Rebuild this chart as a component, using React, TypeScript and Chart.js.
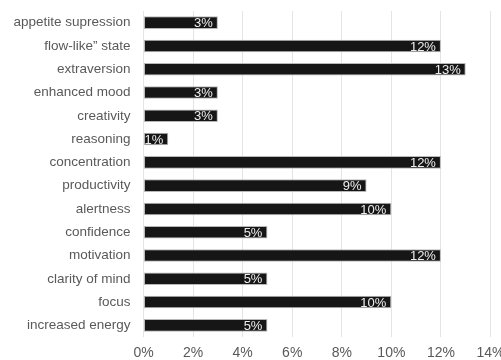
import React, { useEffect, useRef } from "react";
import { Chart, registerables } from "chart.js";

Chart.register(...registerables);

const categories = [
  "appetite supression",
  "flow-like” state",
  "extraversion",
  "enhanced mood",
  "creativity",
  "reasoning",
  "concentration",
  "productivity",
  "alertness",
  "confidence",
  "motivation",
  "clarity of mind",
  "focus",
  "increased energy",
];

const values = [3, 12, 13, 3, 3, 1, 12, 9, 10, 5, 12, 5, 10, 5];

const xTicks = [0, 2, 4, 6, 8, 10, 12, 14];

const FONT = "'Liberation Sans', Arial, sans-serif";

const barLabelPlugin = {
  id: "barLabels",
  afterDatasetsDraw(chart: any) {
    const ctx = chart.ctx;
    const meta = chart.getDatasetMeta(0);
    ctx.save();
    ctx.font = `13px ${FONT}`;
    ctx.fillStyle = "#eeeeee";
    ctx.textAlign = "right";
    ctx.textBaseline = "middle";
    meta.data.forEach((bar: any, i: number) => {
      const v = values[i];
      ctx.fillText(`${Math.round(v)}%`, bar.x - 5, bar.y + 1);
    });
    ctx.restore();
  },
};

export default function App() {
  const ref = useRef<HTMLCanvasElement | null>(null);

  useEffect(() => {
    document.body.style.margin = "0";
    if (!ref.current) return;
    const chart = new Chart(ref.current, {
      type: "bar",
      data: {
        labels: categories,
        datasets: [
          {
            data: values,
            backgroundColor: "#161616",
            borderColor: "#b8b8b8",
            borderWidth: 1,
            borderSkipped: false,
            barPercentage: 0.54,
            categoryPercentage: 1,
          },
        ],
      },
      options: {
        indexAxis: "y",
        responsive: false,
        animation: false,
        maintainAspectRatio: false,
        layout: { padding: { top: 11, right: 10.5, left: 0, bottom: 0 } },
        plugins: {
          legend: { display: false },
          tooltip: { enabled: false },
        },
        scales: {
          x: {
            min: 0,
            max: 14,
            afterBuildTicks: (s: any) => {
              s.ticks = xTicks.map((v) => ({ value: v }));
            },
            ticks: {
              callback: (v: any) => `${v}%`,
              color: "#595959",
              font: { family: FONT, size: 14 },
              padding: 8,
              maxRotation: 0,
            },
            grid: { color: "#e4e4e4", drawTicks: false },
            border: { display: false },
            afterFit: (s: any) => {
              s.height = 23;
              s.paddingLeft = 0;
              s.paddingRight = 0;
            },
          },
          y: {
            ticks: {
              color: "#595959",
              font: { family: FONT, size: 13.5 },
              padding: 13,
              autoSkip: false,
            },
            grid: { display: false, drawTicks: false },
            border: { display: false },
            afterFit: (s: any) => {
              s.width = 143.5;
              s.paddingTop = 0;
              s.paddingBottom = 0;
            },
          },
        },
      },
      plugins: [barLabelPlugin],
    });
    return () => chart.destroy();
  }, []);

  return (
    <div style={{ width: 501, height: 360 }}>
      <canvas ref={ref} width={501} height={360} style={{ display: "block" }} />
    </div>
  );
}
